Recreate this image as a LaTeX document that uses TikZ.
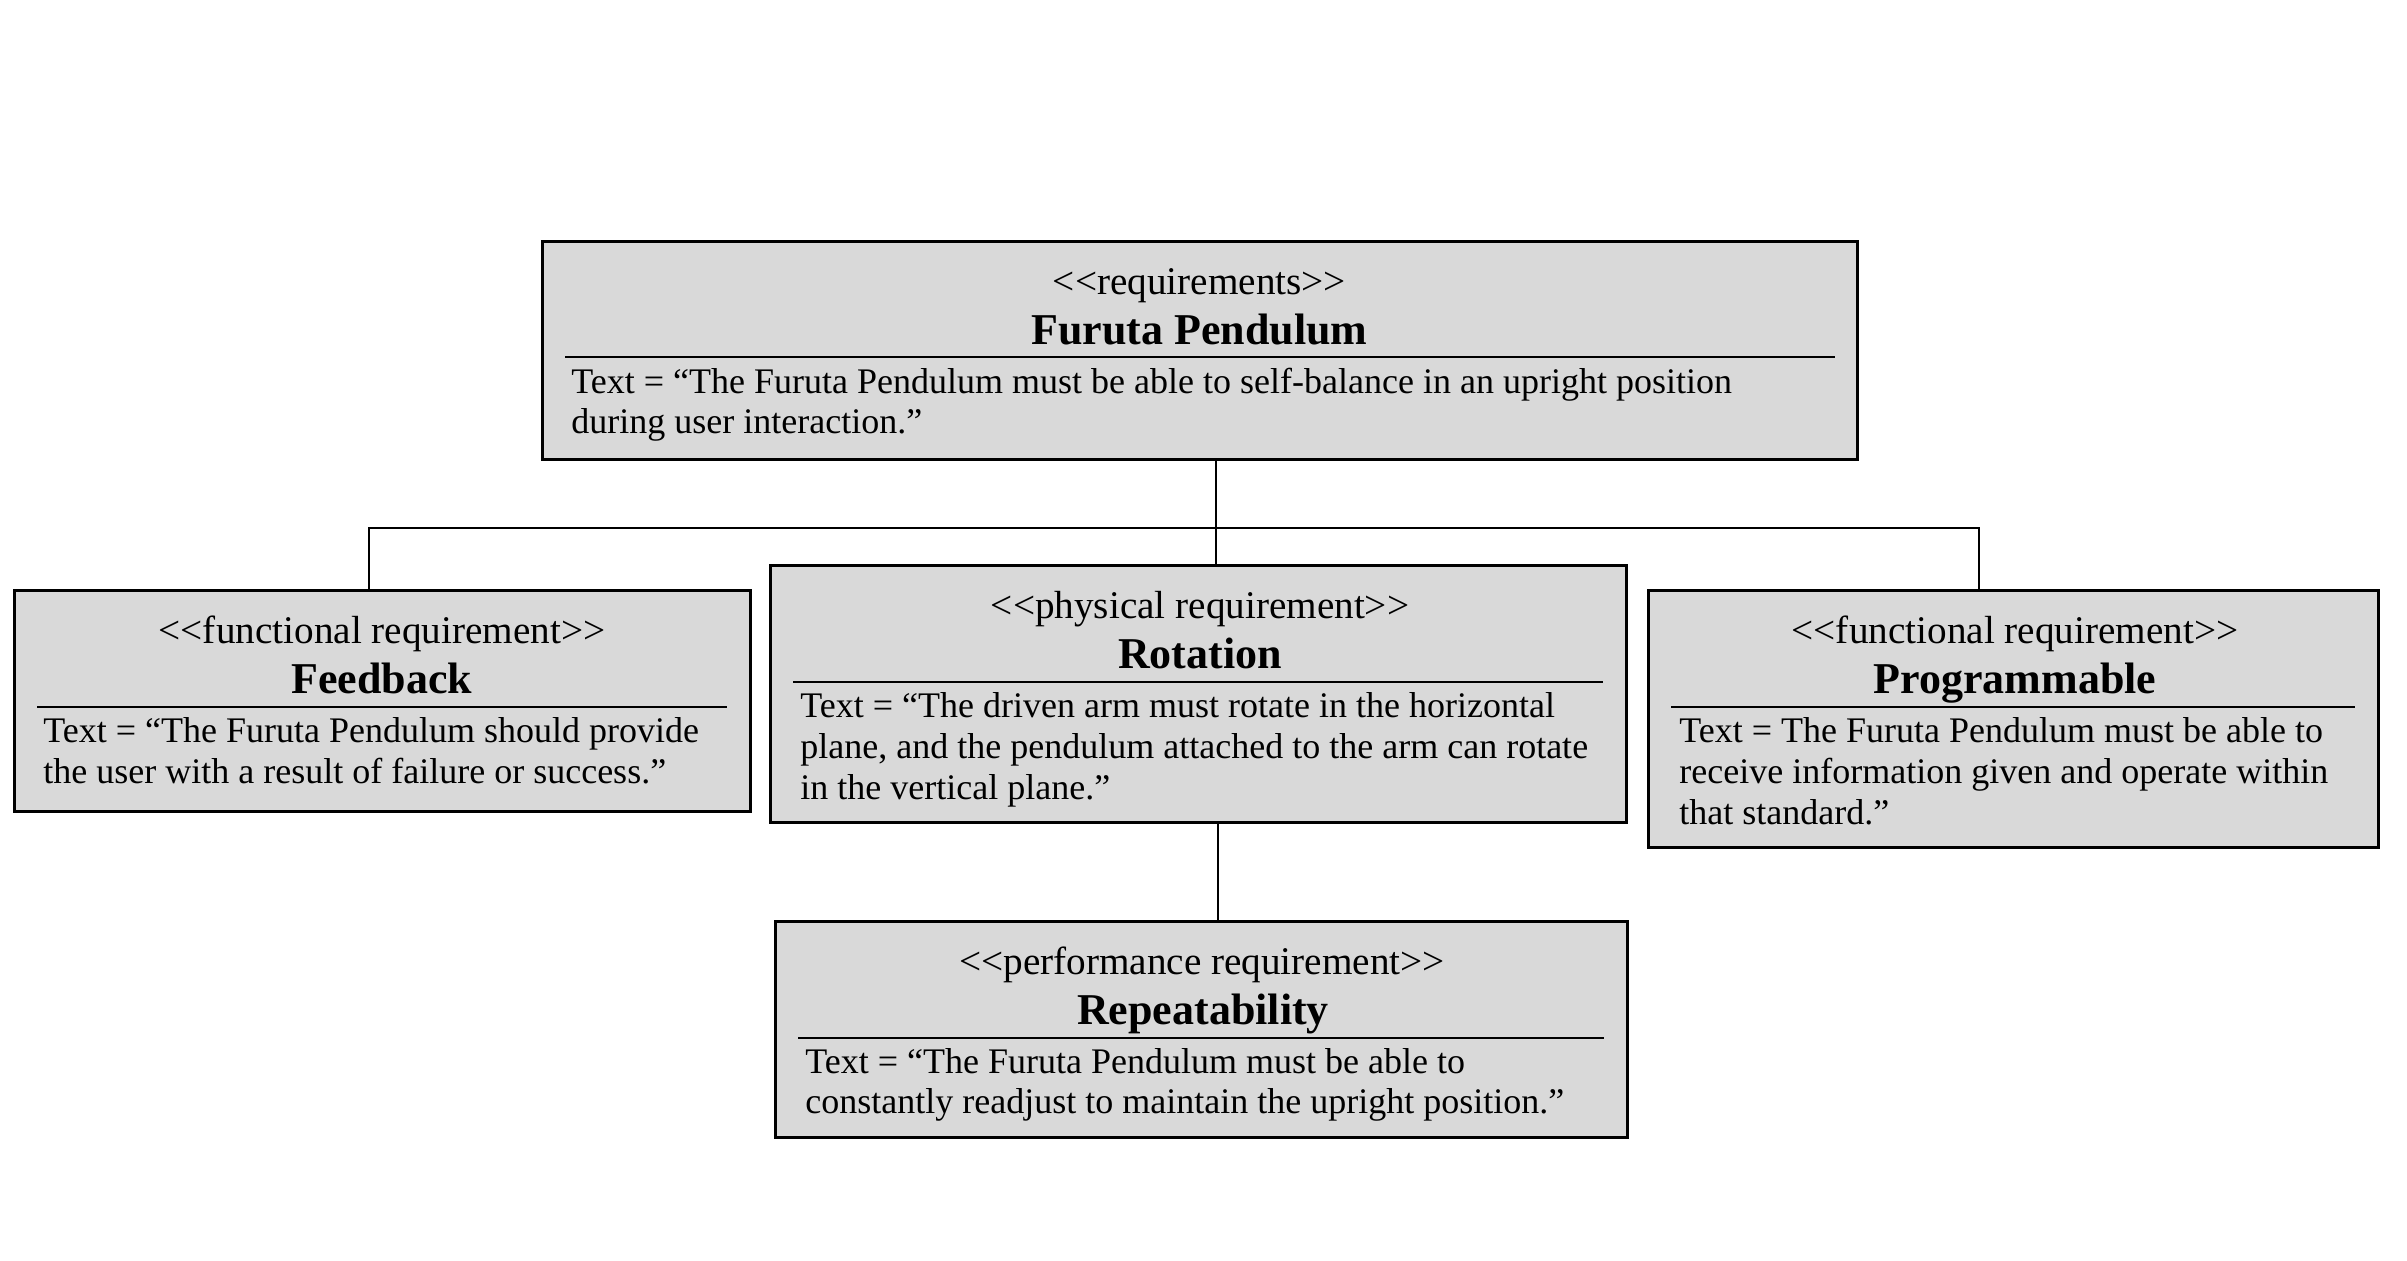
\documentclass[tikz,border=0pt]{standalone}
\usepackage{fontspec}
\setmainfont{Liberation Serif}
\definecolor{boxgray}{RGB}{217,217,217}
\tikzset{
  reqbox/.style={draw=black, fill=boxgray, line width=1.5pt, rectangle, inner sep=0pt},
  stereo/.style={anchor=base, inner sep=0pt, font=\fontsize{19.6pt}{23pt}\selectfont},
  title/.style={anchor=base, inner sep=0pt, font=\fontsize{22pt}{26pt}\selectfont\bfseries},
  body/.style={anchor=base west, inner sep=0pt, font=\fontsize{18pt}{20.5pt}\selectfont},
  divider/.style={line width=1pt},
  conn/.style={line width=1pt}
}
\newcommand{\lt}{<\kern0pt<}
\newcommand{\gt}{>\kern0pt>}
\begin{document}
\begin{tikzpicture}[x=0.5pt,y=-0.5pt]
\useasboundingbox (0,0) rectangle (2407,1260);

% Boxes
\node[reqbox, minimum width=657.5pt, minimum height=109pt] (top) at (1199.5,350) {};
\node[reqbox, minimum width=368pt, minimum height=110.5pt] (fb) at (382,700.5) {};
\node[reqbox, minimum width=428pt, minimum height=128.5pt] (rot) at (1198,693.5) {};
\node[reqbox, minimum width=365pt, minimum height=128.5pt] (prog) at (2013,718.5) {};
\node[reqbox, minimum width=426pt, minimum height=108pt] (rep) at (1201,1029) {};

% Top box
\node[stereo] (topS) at (1199.5,294) {\lt requirements\gt};
\node[title] (topT) at (1199.5,344) {Furuta Pendulum};
\draw[divider] (565,357) -- (1835,357);
\node[body] (topB1) at (571,393) {Text = “The Furuta Pendulum must be able to self-balance in an upright position};
\node[body] (topB2) at (571,433) {during user interaction.”};

% Feedback
\node[stereo] (fbS) at (382,643) {\lt functional requirement\gt};
\node[title] (fbT) at (382,693) {Feedback};
\draw[divider] (37,707) -- (727,707);
\node[body] (fbB1) at (43,742) {Text = “The Furuta Pendulum should provide};
\node[body] (fbB2) at (43,783) {the user with a result of failure or success.”};

% Rotation
\node[stereo] (rotS) at (1200,618) {\lt physical requirement\gt};
\node[title] (rotT) at (1200,668) {Rotation};
\draw[divider] (793,682) -- (1603,682);
\node[body] (rotB1) at (800,717) {Text = “The driven arm must rotate in the horizontal};
\node[body] (rotB2) at (800,758) {plane, and the pendulum attached to the arm can rotate};
\node[body] (rotB3) at (800,799) {in the vertical plane.”};

% Programmable
\node[stereo] (progS) at (2015,643) {\lt functional requirement\gt};
\node[title] (progT) at (2015,693) {Programmable};
\draw[divider] (1671,707) -- (2355,707);
\node[body] (progB1) at (1679,742) {Text = The Furuta Pendulum must be able to};
\node[body] (progB2) at (1679,783) {receive information given and operate within};
\node[body] (progB3) at (1679,824) {that standard.”};

% Repeatability
\node[stereo] (repS) at (1202,974) {\lt performance requirement\gt};
\node[title] (repT) at (1203,1024) {Repeatability};
\draw[divider] (798,1038) -- (1604,1038);
\node[body] (repB1) at (805,1073) {Text = “The Furuta Pendulum must be able to};
\node[body] (repB2) at (805,1113) {constantly readjust to maintain the upright position.”};

% Connectors
\coordinate (j) at (1216,528);
\coordinate (jl) at (369,528);
\coordinate (jr) at (1979,528);
\coordinate (k) at (1218,870);
\draw[conn] (top.south -| j) -- (rot.north -| j);
\draw[conn] (fb.north -| jl) -- (jl) -- (jr) -- (prog.north -| jr);
\draw[conn] (rot.south -| k) -- (rep.north -| k);
\end{tikzpicture}
\end{document}
